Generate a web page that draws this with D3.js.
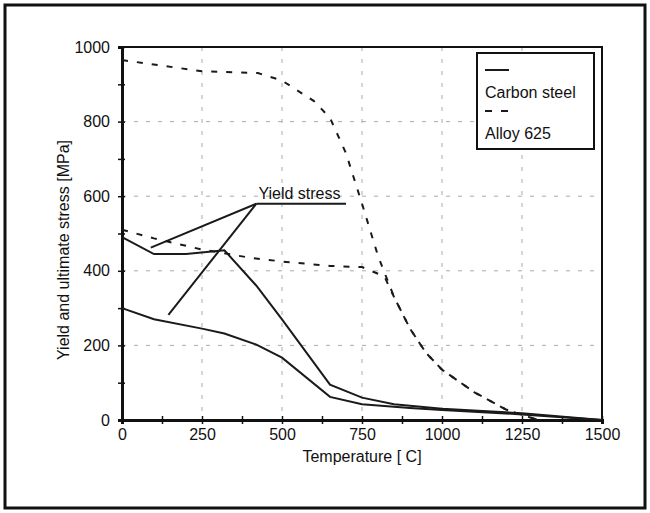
<!DOCTYPE html>
<html>
<head>
<meta charset="utf-8">
<script src="https://cdn.jsdelivr.net/npm/d3@7"></script>
<style>
  body { margin: 0; background: #fff; }
  svg text { font-family: "Liberation Sans", Arial, sans-serif; fill: #111; }
</style>
</head>
<body>
<svg id="chart" width="650" height="513"></svg>
<script>
// Values
const xTicks = [0, 250, 500, 750, 1000, 1250, 1500];
const yTicks = [0, 200, 400, 600, 800, 1000];
const legendNames = ["Carbon steel", "Alloy 625"];

// Carbon steel (solid)
const carbonUltT = [0, 100, 200, 320, 420, 500, 650, 750, 850, 1000, 1250, 1500];
const carbonUltS = [490, 445, 445, 455, 360, 270, 95, 60, 42, 30, 18, 0];
const carbonYldT = [0, 100, 250, 320, 420, 500, 650, 750, 900, 1000, 1250, 1500];
const carbonYldS = [300, 270, 245, 232, 202, 167, 62, 42, 32, 27, 15, 0];

// Alloy 625 (dashed)
const alloyUltT = [0, 250, 425, 500, 600, 650, 700, 750, 800, 850, 900, 950, 1000, 1100, 1200, 1300];
const alloyUltS = [965, 935, 930, 910, 855, 810, 715, 580, 440, 330, 245, 180, 135, 75, 28, 0];
const alloyYldT = [0, 100, 250, 400, 500, 650, 750, 820, 850, 900, 950, 1000, 1100, 1200, 1300];
const alloyYldS = [510, 487, 457, 435, 425, 413, 410, 385, 330, 245, 180, 135, 75, 28, 0];

// "Yield stress" callout: label anchor, line end, and the two pointed curves
const calloutAnchor = [420, 580];
const calloutEnd = [700, 580];
const calloutTargets = [[90, 462], [145, 282]];

const svg = d3.select("#chart");
const W = 650, H = 513;
const plot = {left: 122, right: 602, top: 47, bottom: 420};

const x = d3.scaleLinear().domain([0, 1500]).range([plot.left, plot.right]);
const y = d3.scaleLinear().domain([0, 1000]).range([plot.bottom, plot.top]);

// outer frame
svg.append("rect")
   .attr("x", 5).attr("y", 5)
   .attr("width", W - 10).attr("height", H - 10)
   .attr("fill", "#fff")
   .attr("stroke", "#111")
   .attr("stroke-width", 3);

// grid
const grid = svg.append("g").attr("stroke", "#aaa").attr("stroke-width", 1).attr("stroke-dasharray", "4,8");
grid.selectAll("line.v")
    .data(xTicks.filter(d => d > 0 && d < 1500))
    .enter().append("line")
    .attr("x1", d => x(d)).attr("x2", d => x(d))
    .attr("y1", plot.top).attr("y2", plot.bottom);
grid.selectAll("line.h")
    .data(yTicks.filter(d => d > 0 && d < 1000))
    .enter().append("line")
    .attr("x1", plot.left).attr("x2", plot.right)
    .attr("y1", d => y(d)).attr("y2", d => y(d));

// top and right border of the plot
svg.append("path")
   .attr("d", `M${plot.left},${plot.top}H${plot.right}V${plot.bottom}`)
   .attr("fill", "none").attr("stroke", "#111").attr("stroke-width", 2);

// axes
const xAxis = d3.axisBottom(x)
    .tickValues(d3.range(0, 1501, 125))
    .tickSize(4).tickPadding(5)
    .tickFormat(d => d % 250 === 0 ? d : "");
const gx = svg.append("g")
    .attr("transform", `translate(0,${plot.bottom})`)
    .call(xAxis);
gx.select(".domain").attr("stroke", "#111").attr("stroke-width", 3);
gx.selectAll(".tick line").attr("y1", -4).attr("stroke", "#111").attr("stroke-width", 1.5);
gx.selectAll("text").style("font-size", "16px").attr("fill", "#111");

const yAxis = d3.axisLeft(y)
    .tickValues(d3.range(0, 1001, 100))
    .tickSize(4).tickPadding(8)
    .tickFormat(d => d % 200 === 0 ? d : "");
const gy = svg.append("g")
    .attr("transform", `translate(${plot.left},0)`)
    .call(yAxis);
gy.select(".domain").attr("stroke", "#111").attr("stroke-width", 3);
gy.selectAll(".tick line").attr("x1", 3).attr("stroke", "#111").attr("stroke-width", 1.5);
gy.selectAll("text").style("font-size", "16px").attr("fill", "#111");

// axis titles
svg.append("text")
   .attr("x", (plot.left + plot.right) / 2)
   .attr("y", 462)
   .attr("text-anchor", "middle")
   .style("font-size", "16px")
   .text("Temperature [ C]");

svg.append("text")
   .attr("transform", "translate(69,250) rotate(-90)")
   .attr("text-anchor", "middle")
   .style("font-size", "16px")
   .text("Yield and ultimate stress [MPa]");

// series
const line = d3.line().x(d => x(d[0])).y(d => y(d[1]));
const pts = (T, S) => T.map((t, i) => [t, S[i]]);

const series = [
    {pts: pts(alloyUltT, alloyUltS), dash: "6,9"},
    {pts: pts(alloyYldT, alloyYldS), dash: "6,9"},
    {pts: pts(carbonUltT, carbonUltS), dash: null},
    {pts: pts(carbonYldT, carbonYldS), dash: null}
];

svg.append("g").selectAll("path")
   .data(series)
   .enter().append("path")
   .attr("d", d => line(d.pts))
   .attr("fill", "none")
   .attr("stroke", "#1a1a1a")
   .attr("stroke-width", 2)
   .attr("stroke-dasharray", d => d.dash);

// callout
const callout = svg.append("g").attr("stroke", "#1a1a1a").attr("stroke-width", 2);
callout.append("line")
   .attr("x1", x(calloutAnchor[0])).attr("y1", y(calloutAnchor[1]))
   .attr("x2", x(calloutEnd[0])).attr("y2", y(calloutEnd[1]));
callout.selectAll("line.ptr")
   .data(calloutTargets)
   .enter().append("line")
   .attr("x1", x(calloutAnchor[0])).attr("y1", y(calloutAnchor[1]))
   .attr("x2", d => x(d[0])).attr("y2", d => y(d[1]));
svg.append("text")
   .attr("x", x(calloutAnchor[0]) + 2)
   .attr("y", y(calloutAnchor[1]) - 5)
   .style("font-size", "16px")
   .text("Yield stress");

// legend
const lg = svg.append("g").attr("transform", "translate(477,53)");
lg.append("rect")
  .attr("width", 117).attr("height", 96)
  .attr("fill", "#fff")
  .attr("stroke", "#111").attr("stroke-width", 2);
legendNames.forEach((name, i) => {
    const oy = i * 41;
    lg.append("line")
      .attr("x1", 8).attr("x2", 32)
      .attr("y1", 17 + oy).attr("y2", 17 + oy)
      .attr("stroke", "#1a1a1a").attr("stroke-width", 2)
      .attr("stroke-dasharray", i === 0 ? null : "7,9");
    lg.append("text")
      .attr("x", 8).attr("y", 45 + oy)
      .style("font-size", "16px")
      .text(name);
});
</script>
</body>
</html>
